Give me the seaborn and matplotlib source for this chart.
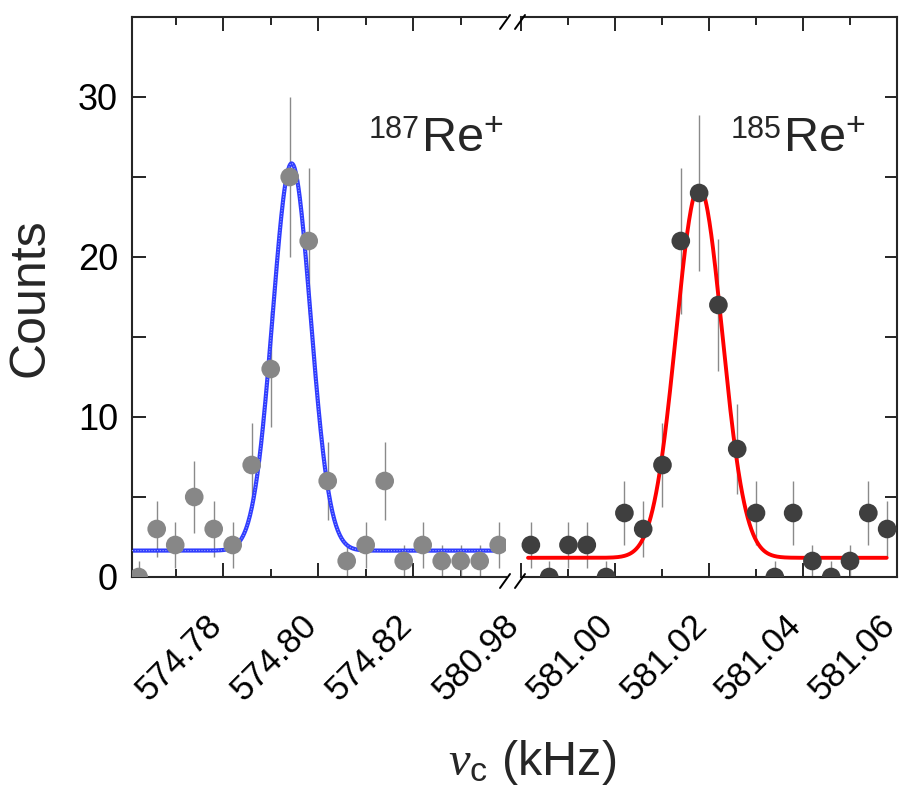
import numpy as np
import pandas as pd
import matplotlib
matplotlib.use("Agg")
import matplotlib.pyplot as plt
import seaborn as sns
from matplotlib.ticker import FixedLocator, MultipleLocator, FormatStrFormatter
from matplotlib.lines import Line2D
from matplotlib.transforms import IdentityTransform

# ---------------- data ----------------
re187_freq = [574.7622, 574.7660, 574.7699, 574.7739, 574.7780, 574.7820, 574.7860,
              574.7900, 574.7940, 574.7980, 574.8020, 574.8060, 574.8100, 574.8140,
              574.8180, 574.8220, 574.8260, 574.8300, 574.8340, 574.8380]
re187_counts = [0, 3, 2, 5, 3, 2, 7, 13, 25, 21, 6, 1, 2, 6, 1, 2, 1, 1, 1, 2]
re187_err = [1.0, 1.73, 1.41, 2.24, 1.73, 1.41, 2.65, 3.61, 5.0, 4.58, 2.45, 1.0,
             1.41, 2.45, 1.0, 1.41, 1.0, 1.0, 1.0, 1.41]

re185_freq = [580.9821, 580.9860, 580.9901, 580.9940, 580.9981, 581.0020, 581.0060,
              581.0101, 581.0140, 581.0179, 581.0220, 581.0260, 581.0300, 581.0340,
              581.0379, 581.0420, 581.0460, 581.0500, 581.0539, 581.0579]
re185_counts = [2, 0, 2, 2, 0, 4, 3, 7, 21, 24, 17, 8, 4, 0, 4, 1, 0, 1, 4, 3]
re185_err = [1.41, 1.0, 1.41, 1.41, 1.0, 2.0, 1.73, 2.65, 4.58, 4.9, 4.12, 2.83, 2.0,
             1.0, 2.0, 1.0, 1.0, 1.0, 2.0, 1.73]

# Gaussian fit parameters (center, sigma, amplitude, baseline, x-range)
fit187 = dict(center=574.7944, sigma=0.0040, amp=24.2, base=1.65, x0=574.7608, x1=574.8383)
fit185 = dict(center=581.0179, sigma=0.0049, amp=23.2, base=1.2, x0=580.9815, x1=581.0578)

left_ticks = [574.78, 574.80, 574.82]
right_ticks = [580.98, 581.00, 581.02, 581.04, 581.06]
y_ticks = [0, 10, 20, 30]


def gauss_curve(p):
    x = np.linspace(p["x0"], p["x1"], 600)
    y = p["base"] + p["amp"] * np.exp(-(x - p["center"]) ** 2 / (2 * p["sigma"] ** 2))
    return pd.DataFrame({"x": x, "y": y})


df187 = pd.DataFrame({"freq": re187_freq, "counts": re187_counts, "err": re187_err})
df185 = pd.DataFrame({"freq": re185_freq, "counts": re185_counts, "err": re185_err})

# ---------------- style ----------------
sns.set_style("ticks")
plt.rcParams["font.family"] = ["Liberation Sans", "DejaVu Sans"]
plt.rcParams["mathtext.fontset"] = "custom"
plt.rcParams["mathtext.rm"] = "Liberation Sans"
plt.rcParams["mathtext.it"] = "Liberation Serif:italic"
plt.rcParams["mathtext.bf"] = "Liberation Sans:bold"

W, H = 903, 786
fig = plt.figure(figsize=(W / 100, H / 100), dpi=100)


def rect(x0, x1, y0, y1):
    return [x0 / W, 1 - y1 / H, (x1 - x0) / W, (y1 - y0) / H]


ax1 = fig.add_axes(rect(132, 506, 17, 577))
ax2 = fig.add_axes(rect(521, 897, 17, 577))

px_per_unit = 4750.0
ax1.set_xlim(574.7608, 574.7608 + (506 - 132) / px_per_unit)
ax2.set_xlim(580.98, 581.06)
for ax in (ax1, ax2):
    ax.set_ylim(0, 35)

# error bars
ax1.errorbar(df187["freq"], df187["counts"], yerr=df187["err"], fmt="none",
             ecolor="#8a8a8a", elinewidth=1.0, capsize=0, zorder=2)
ax2.errorbar(df185["freq"], df185["counts"], yerr=df185["err"], fmt="none",
             ecolor="#8a8a8a", elinewidth=1.0, capsize=0, zorder=2)

# fits
c187 = gauss_curve(fit187)
c185 = gauss_curve(fit185)
sns.lineplot(data=c187, x="x", y="y", ax=ax1, color="#2f3cff", lw=3.0, zorder=2.5,
             sort=False, estimator=None)
ax1.plot(c187["x"], c187["y"], color="#9aa4ff", lw=0.8, ls=(0, (1, 1.5)), zorder=2.6)
sns.lineplot(data=c185, x="x", y="y", ax=ax2, color="#ff0000", lw=2.8, zorder=2.5,
             sort=False, estimator=None)

# points
sns.scatterplot(data=df187, x="freq", y="counts", ax=ax1, color="#878787", s=180,
                edgecolor="none", linewidth=0, zorder=3)
sns.scatterplot(data=df185, x="freq", y="counts", ax=ax2, color="#3f3f3f", s=180,
                edgecolor="none", linewidth=0, zorder=3)

# ticks & spines
ax1.xaxis.set_major_locator(FixedLocator(left_ticks))
ax1.xaxis.set_minor_locator(MultipleLocator(0.01))
ax2.xaxis.set_major_locator(FixedLocator(right_ticks))
ax2.xaxis.set_minor_locator(MultipleLocator(0.01))
for ax in (ax1, ax2):
    ax.xaxis.set_major_formatter(FormatStrFormatter("%.2f"))
    ax.yaxis.set_major_locator(FixedLocator(y_ticks))
    ax.yaxis.set_minor_locator(MultipleLocator(5))
    ax.set_xlabel("")
    ax.set_ylabel("")
    for sp in ax.spines.values():
        sp.set_linewidth(1.5)
    ax.tick_params(axis="both", which="both", direction="in", width=1.2,
                   top=True, colors="black")
    ax.tick_params(axis="y", labelsize=26)
    ax.tick_params(axis="x", labelsize=25)
    ax.tick_params(axis="both", which="major", length=10)
    ax.tick_params(axis="both", which="minor", length=6)
    ax.tick_params(axis="x", which="major", pad=36)
    for lab in ax.get_xticklabels():
        lab.set_rotation(45)
        lab.set_ha("right")
        lab.set_va("baseline")
        lab.set_rotation_mode("anchor")

ax1.spines["right"].set_visible(False)
ax2.spines["left"].set_visible(False)
ax1.tick_params(axis="y", which="both", left=True, right=False, pad=10)
ax2.tick_params(axis="y", which="both", left=False, right=True, labelleft=False)
ax1.tick_params(axis="y", which="minor", length=10)
ax2.tick_params(axis="y", which="both", length=9)

# isotope labels: main "Re+" then mass number as leading superscript
main187 = ax1.text(574.8390, 26.6, r"Re$^{+}$", fontsize=35, ha="right", va="baseline")
main185 = ax2.text(581.0533, 26.6, r"Re$^{+}$", fontsize=35, ha="right", va="baseline")

# axis titles
fig.text(30 / W, 1 - 298 / H, "Counts", rotation=90, ha="center", va="center",
         fontsize=36)
fig.text(532 / W, 1 - 775 / H, r"$\nu_{\mathrm{c}}$ (kHz)", ha="center",
         va="baseline", fontsize=35)

# axis-break marks
for yc in (22, 581):
    for xc in (505, 520):
        fig.add_artist(Line2D([(xc - 5) / W, (xc + 5) / W],
                              [1 - (yc + 7) / H, 1 - (yc - 7) / H],
                              transform=fig.transFigure, color="black", lw=1.4))

fig.canvas.draw()
renderer = fig.canvas.get_renderer()
for ax, main, mass in ((ax1, main187, "187"), (ax2, main185, "185")):
    bb = main.get_window_extent(renderer)
    base_px = ax.transData.transform((0, 26.6))[1]
    fig.text(bb.x0 - 1, base_px + 13.5, mass, fontsize=22, ha="right",
             va="baseline", transform=IdentityTransform())

fig.savefig("out.png", dpi=100)
